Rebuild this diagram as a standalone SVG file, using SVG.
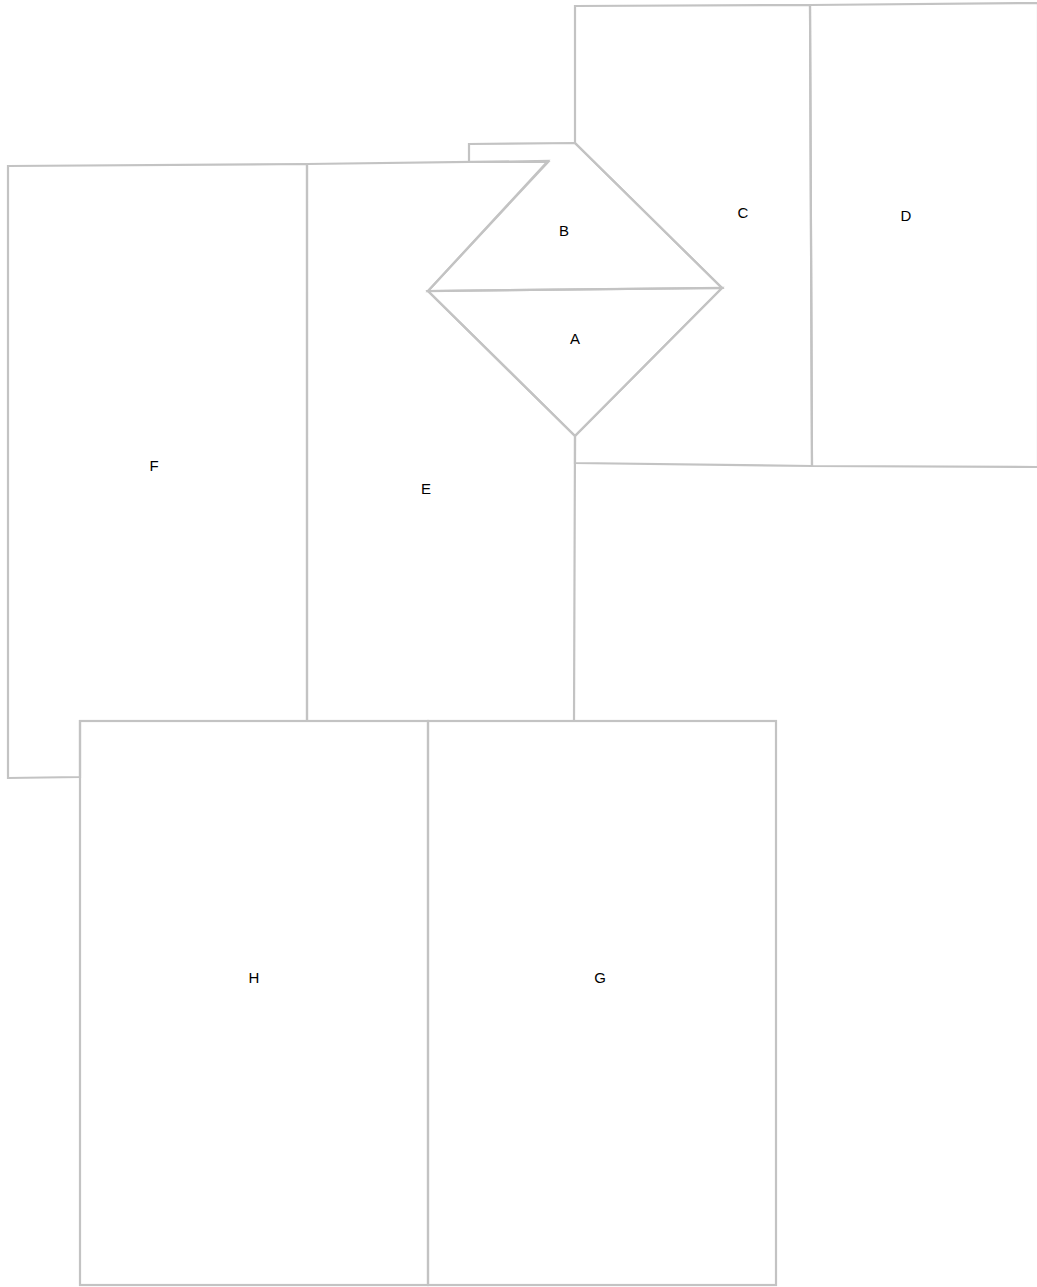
<svg xmlns="http://www.w3.org/2000/svg" width="1037" height="1287" viewBox="0 0 1037 1287">
<style>
.w{fill:none;stroke:#c3c3c3;stroke-width:2.2;stroke-linejoin:miter}
.t{font-family:"Liberation Sans",Arial,sans-serif;font-size:15px;fill:#000;text-anchor:middle;dominant-baseline:central}
</style>
<rect width="1037" height="1287" fill="#fff"/>
<g id="D"><polygon class="w" points="810,5 1038,3 1038,467 812,466"/><text class="t" x="906" y="215">D</text></g>
<g id="C"><polygon class="w" points="575,6 810,5 812,466 575,463 575,436 722,288 575,143"/><text class="t" x="743" y="212">C</text></g>
<g id="B"><polygon class="w" points="575,143 722,288 428,291 548,162 469,162 469,144"/><text class="t" x="564" y="230">B</text></g>
<g id="A"><polygon class="w" points="428,291 722,288 575,436"/><text class="t" x="575" y="338">A</text></g>
<g id="E"><polygon class="w" points="307,164 548,161 428,291 575,436 574,721 307,721"/><text class="t" x="426" y="488">E</text></g>
<g id="F"><polygon class="w" points="8,166 307,164 307,721 80,721 80,777 8,778"/><text class="t" x="154" y="465">F</text></g>
<g id="H"><rect class="w" x="80" y="721" width="348" height="564"/><text class="t" x="254" y="977">H</text></g>
<g id="G"><rect class="w" x="428" y="721" width="348" height="564"/><text class="t" x="600" y="977">G</text></g>
<g id="connectors"></g>
</svg>
